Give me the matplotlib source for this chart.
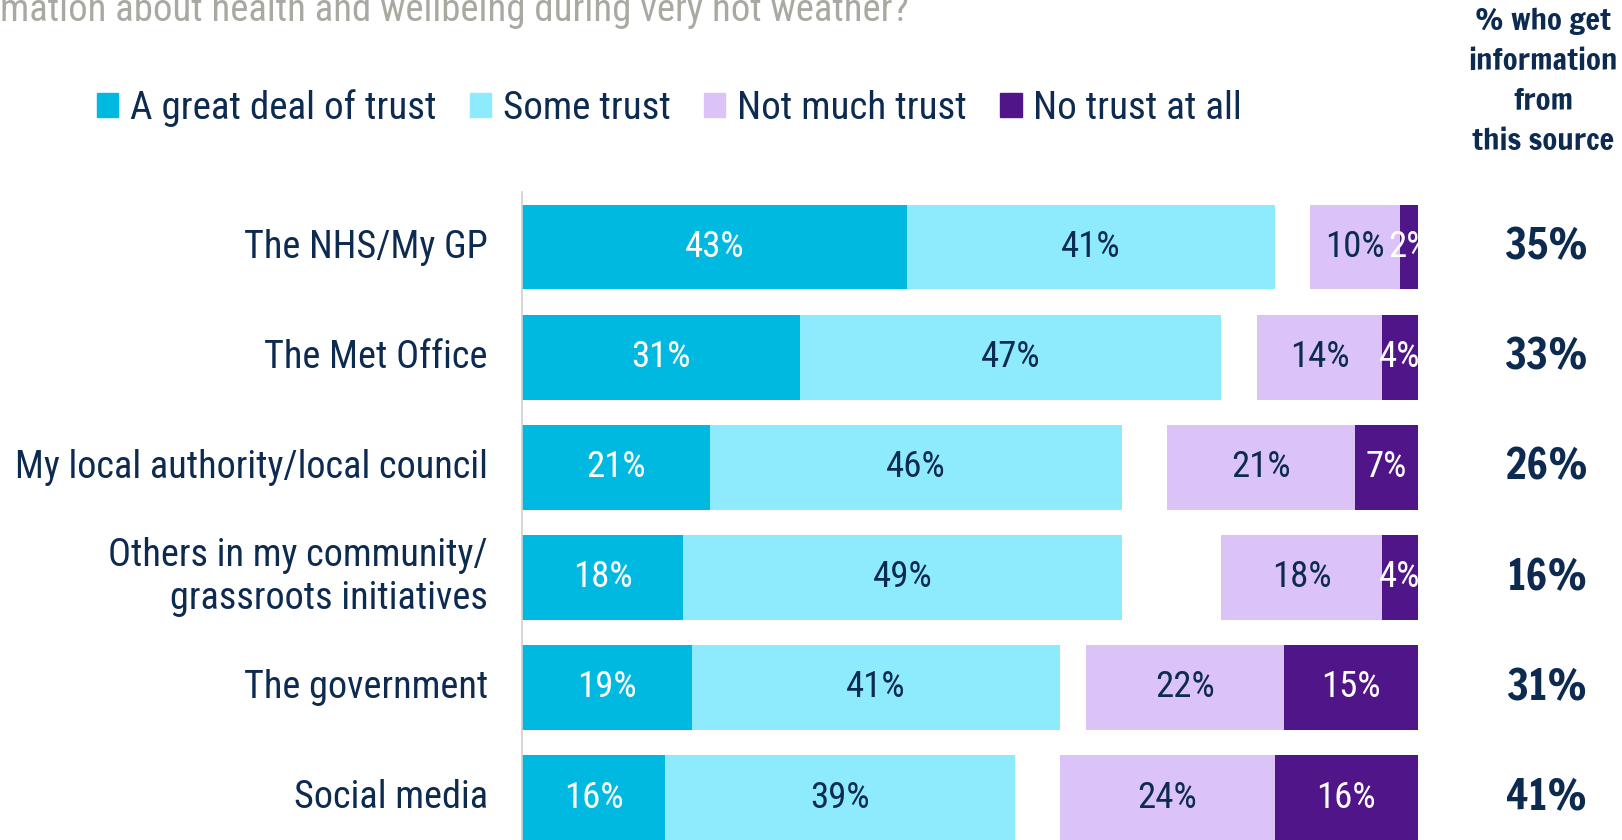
import matplotlib
matplotlib.use("Agg")
import matplotlib.pyplot as plt
from matplotlib import font_manager
from matplotlib.patches import Patch

# data
sources = ["The NHS/My GP", "The Met Office", "My local authority/local council",
           "Others in my community/\ngrassroots initiatives", "The government", "Social media"]
great_deal = [43, 31, 21, 18, 19, 16]
some_trust = [41, 47, 46, 49, 41, 39]
not_much = [10, 14, 21, 18, 22, 24]
no_trust = [2, 4, 7, 4, 15, 16]
get_info = [35, 33, 26, 16, 31, 41]
series_names = ["A great deal of trust", "Some trust", "Not much trust", "No trust at all"]
title_text = "mation about health and wellbeing during very hot weather?"
header_text = "% who get\ninformation\nfrom\nthis source"

NAVY = "#0D2B50"
colors = ["#00B9E0", "#8EEAFD", "#DCC3F7", "#51158A"]
label_colors = ["white", NAVY, NAVY, "white"]

avail = {f.name for f in font_manager.fontManager.ttflist}
def pick(cands):
    for c in cands:
        if c in avail:
            return c
    return "DejaVu Sans"

body_font = pick(["Roboto Condensed", "Archivo Narrow", "Barlow Semi Condensed", "IBM Plex Sans Condensed"])
bold_font = pick(["Francois One", "Oswald", "Fjalla One", "Roboto Condensed"])

W, H = 1622, 840
fig = plt.figure(figsize=(W / 100, H / 100), dpi=100)
renderer = fig.canvas.get_renderer()

def fit(t, target_px):
    # scale font so text width matches reference
    w = t.get_window_extent(renderer).width
    t.set_fontsize(t.get_fontsize() * target_px / w)
    return t

ax = fig.add_axes([522 / W, 0, 896 / W, 648 / H])
rows = list(range(len(sources)))
ax.set_xlim(0, 100)
ax.set_ylim(5.385, -0.5)

# trust from the left, distrust pushed to the right edge
right_left = [100 - a - b for a, b in zip(not_much, no_trust)]
nt_left = [100 - b for b in no_trust]
segments = [
    (great_deal, [0] * len(rows)),
    (some_trust, great_deal),
    (not_much, right_left),
    (no_trust, nt_left),
]
ref = ax.text(0, 0, "43%", family=body_font, fontsize=20)
fit(ref, 60)
lab_size = ref.get_fontsize()
ref.remove()

for k, (vals, lefts) in enumerate(segments):
    ax.barh(rows, vals, left=lefts, height=0.77, color=colors[k], label=series_names[k])
    for r, v, l in zip(rows, vals, lefts):
        ax.text(l + v / 2, r, "%d%%" % v, ha="center", va="center", color=label_colors[k],
                family=body_font, fontsize=lab_size)

for s in ["top", "right", "bottom"]:
    ax.spines[s].set_visible(False)
ax.spines["left"].set_color("#D0D0D0")
ax.spines["left"].set_linewidth(1.2)
ax.set_xticks([])
ax.set_yticks([])

# category labels
probe = ax.text(-3.8, 2, sources[2], family=body_font, fontsize=20)
fit(probe, 472)
cat_size = probe.get_fontsize()
probe.remove()
for r, s in zip(rows, sources):
    ax.text(-3.8, r, s, ha="right", va="center", multialignment="right", color=NAVY,
            family=body_font, fontsize=cat_size, linespacing=1.2, clip_on=False)

# right column
probe = ax.text(114.3, 0, "35%", family=bold_font, fontsize=20, weight="bold")
fit(probe, 84)
val_size = probe.get_fontsize()
probe.remove()
for r, v in zip(rows, get_info):
    ax.text(114.3, r, "%d%%" % v, ha="center", va="center", color=NAVY, family=bold_font,
            fontsize=val_size, weight="bold", clip_on=False)

probe = fig.text(0.5, 0.5, "information", family=bold_font, fontsize=20, weight="bold")
fit(probe, 150)
head_size = probe.get_fontsize()
probe.remove()
fig.text(1543 / W, 1 - 81 / H, header_text, ha="center", va="center", multialignment="center",
         color=NAVY, family=bold_font, fontsize=head_size, weight="bold",
         linespacing=1.22 * 39 / (head_size * 100 / 72))

# title (cut off at the top of the figure)
t = fig.text(0, 1 - 21 / H, title_text, ha="left", va="baseline", color="#A8AAA2", family=body_font, fontsize=20)
fit(t, 910)

# legend
probe = fig.text(0.5, 0.5, series_names[0], family=body_font, fontsize=20)
fit(probe, 306)
leg_size = probe.get_fontsize()
probe.remove()
handles = [Patch(color=c) for c in colors]
leg = fig.legend(handles, series_names, loc="center left", bbox_to_anchor=(97 / W, 1 - 108 / H),
                 ncol=4, frameon=False, prop={"family": body_font, "size": leg_size},
                 handlelength=0.55, handleheight=0.55, handletextpad=0.3, columnspacing=0.85,
                 borderaxespad=0, borderpad=0)
for txt in leg.get_texts():
    txt.set_color(NAVY)

fig.savefig("out.png")
